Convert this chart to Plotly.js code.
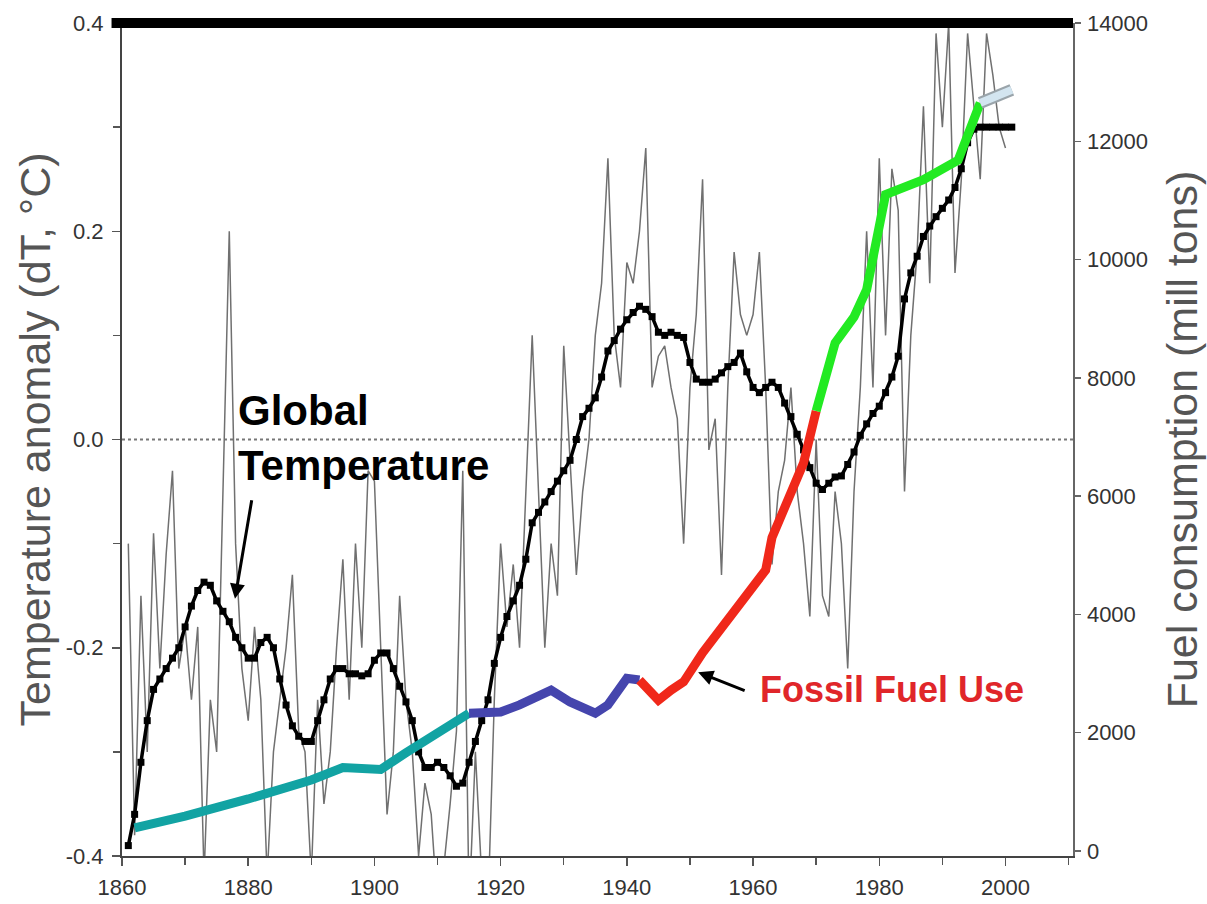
<!DOCTYPE html>
<html>
<head>
<meta charset="utf-8">
<script src="https://cdn.plot.ly/plotly-3.0.1.min.js"></script>
<style>html,body{margin:0;padding:0;background:#fff;}#chart{width:1207px;height:904px;}</style>
</head>
<body>
<div id="chart"></div>
<script>
// ---- Annual global temperature anomaly (thin grey line) ----
const tempYears = [1861,1862,1863,1864,1865,1866,1867,1868,1869,1870,1871,1872,1873,1874,1875,1876,1877,1878,1879,1880,
1881,1882,1883,1884,1885,1886,1887,1888,1889,1890,1891,1892,1893,1894,1895,1896,1897,1898,1899,1900,
1901,1902,1903,1904,1905,1906,1907,1908,1909,1910,1911,1912,1913,1914,1915,1916,1917,1918,1919,1920,
1921,1922,1923,1924,1925,1926,1927,1928,1929,1930,1931,1932,1933,1934,1935,1936,1937,1938,1939,1940,
1941,1942,1943,1944,1945,1946,1947,1948,1949,1950,1951,1952,1953,1954,1955,1956,1957,1958,1959,1960,
1961,1962,1963,1964,1965,1966,1967,1968,1969,1970,1971,1972,1973,1974,1975,1976,1977,1978,1979,1980,
1981,1982,1983,1984,1985,1986,1987,1988,1989,1990,1991,1992,1993,1994,1995,1996,1997,1998,1999,2000];
const tempAnnual = [-0.10,-0.38,-0.15,-0.30,-0.09,-0.22,-0.11,-0.03,-0.22,-0.18,-0.25,-0.18,-0.42,-0.25,-0.30,-0.05,0.20,-0.10,-0.22,-0.27,
-0.18,-0.25,-0.42,-0.30,-0.25,-0.20,-0.13,-0.28,-0.30,-0.42,-0.25,-0.35,-0.30,-0.20,-0.115,-0.25,-0.10,-0.20,-0.03,-0.04,
-0.20,-0.36,-0.30,-0.15,-0.25,-0.30,-0.40,-0.33,-0.36,-0.45,-0.41,-0.35,-0.28,-0.03,-0.45,-0.30,-0.42,-0.45,-0.25,-0.10,
-0.18,-0.12,-0.20,-0.05,0.10,-0.05,-0.20,-0.10,-0.15,0.09,-0.02,-0.13,-0.05,0.00,0.10,0.15,0.27,0.10,0.05,0.17,
0.15,0.20,0.28,0.05,0.08,0.09,0.05,0.02,-0.10,0.05,0.12,0.25,-0.01,0.02,-0.13,0.05,0.18,0.12,0.10,0.12,
0.18,0.05,-0.12,-0.05,-0.02,0.05,-0.05,-0.10,-0.17,0.00,-0.15,-0.17,-0.05,-0.10,-0.22,-0.05,0.05,0.20,0.05,0.27,
0.10,0.26,0.22,-0.05,0.10,0.18,0.32,0.15,0.39,0.30,0.40,0.16,0.25,0.39,0.32,0.25,0.39,0.35,0.30,0.28];

// ---- Smoothed global temperature (black line with square markers) ----
const smoothYears = [1861,1862,1863,1864,1865,1866,1867,1868,1869,1870,1871,1872,1873,1874,1875,1876,1877,1878,1879,1880,
1881,1882,1883,1884,1885,1886,1887,1888,1889,1890,1891,1892,1893,1894,1895,1896,1897,1898,1899,1900,
1901,1902,1903,1904,1905,1906,1907,1908,1909,1910,1911,1912,1913,1914,1915,1916,1917,1918,1919,1920,
1921,1922,1923,1924,1925,1926,1927,1928,1929,1930,1931,1932,1933,1934,1935,1936,1937,1938,1939,1940,
1941,1942,1943,1944,1945,1946,1947,1948,1949,1950,1951,1952,1953,1954,1955,1956,1957,1958,1959,1960,
1961,1962,1963,1964,1965,1966,1967,1968,1969,1970,1971,1972,1973,1974,1975,1976,1977,1978,1979,1980,
1981,1982,1983,1984,1985,1986,1987,1988,1989,1990,1991,1992,1993,1994,1995,1996,1997,1998,1999,2000,2001];
const tempSmooth = [-0.39,-0.36,-0.31,-0.27,-0.24,-0.23,-0.22,-0.21,-0.20,-0.18,-0.16,-0.145,-0.137,-0.14,-0.155,-0.165,-0.175,-0.19,-0.20,-0.21,
-0.21,-0.195,-0.19,-0.20,-0.23,-0.255,-0.275,-0.285,-0.29,-0.29,-0.27,-0.25,-0.23,-0.22,-0.22,-0.225,-0.225,-0.227,-0.225,-0.212,
-0.205,-0.205,-0.22,-0.237,-0.252,-0.27,-0.30,-0.315,-0.315,-0.31,-0.315,-0.323,-0.333,-0.33,-0.31,-0.29,-0.27,-0.25,-0.215,-0.19,
-0.17,-0.155,-0.14,-0.115,-0.08,-0.07,-0.06,-0.05,-0.04,-0.03,-0.02,0.00,0.022,0.03,0.04,0.06,0.085,0.095,0.106,0.115,
0.122,0.128,0.125,0.118,0.103,0.100,0.103,0.100,0.098,0.074,0.058,0.055,0.055,0.058,0.064,0.070,0.074,0.083,0.065,0.050,
0.045,0.050,0.055,0.050,0.035,0.022,0.005,-0.010,-0.027,-0.042,-0.048,-0.042,-0.036,-0.035,-0.024,-0.012,0.004,0.015,0.025,0.032,
0.045,0.060,0.080,0.135,0.160,0.176,0.195,0.205,0.214,0.222,0.230,0.242,0.260,0.285,0.298,0.300,0.300,0.300,0.300,0.300,0.300];

// ---- Fossil fuel consumption (mill tons), coloured segments ----
const fuelTealYears  = [1862, 1870, 1880, 1890, 1895, 1901, 1905, 1910, 1915];
const fuelTeal       = [390, 590, 880, 1200, 1410, 1380, 1660, 2000, 2330];
const fuelBlueYears  = [1915, 1920, 1923, 1928, 1931, 1935, 1937, 1940, 1942];
const fuelBlue       = [2330, 2350, 2470, 2720, 2520, 2330, 2470, 2920, 2890];
const fuelRedYears   = [1942, 1945, 1947, 1949, 1952, 1957, 1962, 1963, 1966, 1968, 1970];
const fuelRed        = [2890, 2550, 2720, 2860, 3350, 4020, 4750, 5300, 6050, 6560, 7440];
const fuelGreenYears = [1970, 1973, 1976, 1978, 1981, 1987, 1992.5, 1996];
const fuelGreen      = [7440, 8590, 9030, 9490, 11100, 11350, 11680, 12650];
const fuelLightYears = [1996, 2001];
const fuelLight      = [12650, 12870];

// ---- Tick labels ----
const xTickVals = [1860, 1880, 1900, 1920, 1940, 1960, 1980, 2000];
const yTickVals = [-0.4, -0.2, 0.0, 0.2, 0.4];
const yTickText = ['-0.4', '-0.2', '0.0', '0.2', '0.4'];
const y2TickVals = [0, 2000, 4000, 6000, 8000, 10000, 12000, 14000];
const y2TickText = ['0', '2000', '4000', '6000', '8000', '10000', '12000', '14000'];

const FONT = 'Liberation Sans, Arial, sans-serif';

const traces = [
  {x: tempYears, y: tempAnnual, type: 'scatter', mode: 'lines',
   line: {color: '#707070', width: 1.5}, hoverinfo: 'skip', showlegend: false},
  {x: smoothYears, y: tempSmooth, type: 'scatter', mode: 'lines+markers',
   line: {color: '#000', width: 3.5}, marker: {symbol: 'square', size: 7, color: '#000'},
   showlegend: false},
  {x: fuelTealYears, y: fuelTeal, yaxis: 'y2', type: 'scatter', mode: 'lines',
   line: {color: '#12a3a3', width: 9}, showlegend: false},
  {x: fuelBlueYears, y: fuelBlue, yaxis: 'y2', type: 'scatter', mode: 'lines',
   line: {color: '#4545ad', width: 9}, showlegend: false},
  {x: fuelRedYears, y: fuelRed, yaxis: 'y2', type: 'scatter', mode: 'lines',
   line: {color: '#f0281a', width: 9}, showlegend: false},
  {x: fuelGreenYears, y: fuelGreen, yaxis: 'y2', type: 'scatter', mode: 'lines',
   line: {color: '#22ea22', width: 9}, showlegend: false},
  {x: fuelLightYears, y: fuelLight, yaxis: 'y2', type: 'scatter', mode: 'lines',
   line: {color: '#9aa4aa', width: 12}, showlegend: false},
  {x: fuelLightYears, y: fuelLight, yaxis: 'y2', type: 'scatter', mode: 'lines',
   line: {color: '#d3e5f0', width: 8}, showlegend: false}
];

const layout = {
  width: 1207, height: 904,
  margin: {l: 122, r: 134, t: 23, b: 48},
  paper_bgcolor: '#fff', plot_bgcolor: '#fff',
  font: {family: FONT, color: '#333'},
  xaxis: {
    range: [1860, 2010.7], showgrid: false, zeroline: false,
    showline: true, linecolor: '#444', linewidth: 2,
    tickmode: 'array', tickvals: xTickVals,
    ticks: 'outside', ticklen: 8, tickwidth: 1.5, tickcolor: '#555',
    minor: {dtick: 10, tick0: 1870, ticks: 'outside', ticklen: 7, tickwidth: 1.5, tickcolor: '#555'},
    tickfont: {size: 22, color: '#333', family: FONT}, ticklabelstandoff: 3
  },
  yaxis: {
    range: [-0.4, 0.4], showgrid: false, zeroline: false,
    showline: true, linecolor: '#444', linewidth: 2,
    tickmode: 'array', tickvals: yTickVals, ticktext: yTickText,
    ticks: 'outside', ticklen: 8, tickwidth: 1.5, tickcolor: '#555',
    minor: {dtick: 0.1, tick0: -0.3, ticks: 'outside', ticklen: 7, tickwidth: 1.5, tickcolor: '#555'},
    tickfont: {size: 22, color: '#333', family: FONT}, ticklabelstandoff: 4,
    title: {text: 'Temperature anomaly (dT, °C)', font: {size: 43, color: '#555', family: FONT}, standoff: 2}
  },
  yaxis2: {
    range: [-84.5, 14000], overlaying: 'y', side: 'right', showgrid: false, zeroline: false,
    showline: true, linecolor: '#666', linewidth: 1.5,
    tickmode: 'array', tickvals: y2TickVals, ticktext: y2TickText,
    ticks: 'outside', ticklen: 6, tickwidth: 1.5, tickcolor: '#666',
    tickfont: {size: 22, color: '#333', family: FONT}, ticklabelstandoff: 2,
    title: {text: 'Fuel consumption (mill tons)', font: {size: 43, color: '#555', family: FONT}, standoff: 20}
  },
  shapes: [
    {type: 'line', xref: 'x', yref: 'y', x0: 1860, x1: 2010.7, y0: 0, y1: 0,
     line: {color: '#777', width: 2, dash: 'dot'}, layer: 'below'},
    {type: 'line', xref: 'paper', yref: 'paper', x0: -0.011, x1: 1.0, y0: 1, y1: 1,
     line: {color: '#000', width: 10}, layer: 'above'}
  ],
  annotations: [
    {x: 1878.0, y: 0.052, xref: 'x', yref: 'y', xanchor: 'left', yanchor: 'top', align: 'left',
     text: '<b>Global<br>Temperature</b>', showarrow: false,
     font: {size: 42, color: '#000', family: FONT}},
    {x: 1877.9, y: -0.153, xref: 'x', yref: 'y', text: '', showarrow: true,
     ax: 17, ay: -100, arrowhead: 2, arrowsize: 1, arrowwidth: 3, arrowcolor: '#000'},
    {x: 1960.8, y: -0.24, xref: 'x', yref: 'y', xanchor: 'left', yanchor: 'middle',
     text: '<b>Fossil Fuel Use</b>', showarrow: false,
     font: {size: 36, color: '#e0262a', family: FONT}},
    {x: 1951.3, y: -0.2235, xref: 'x', yref: 'y', text: '', showarrow: true,
     ax: 48, ay: 19, arrowhead: 2, arrowsize: 1, arrowwidth: 3, arrowcolor: '#000'}
  ]
};

Plotly.newPlot('chart', traces, layout, {displayModeBar: false, staticPlot: true});
</script>
</body>
</html>
